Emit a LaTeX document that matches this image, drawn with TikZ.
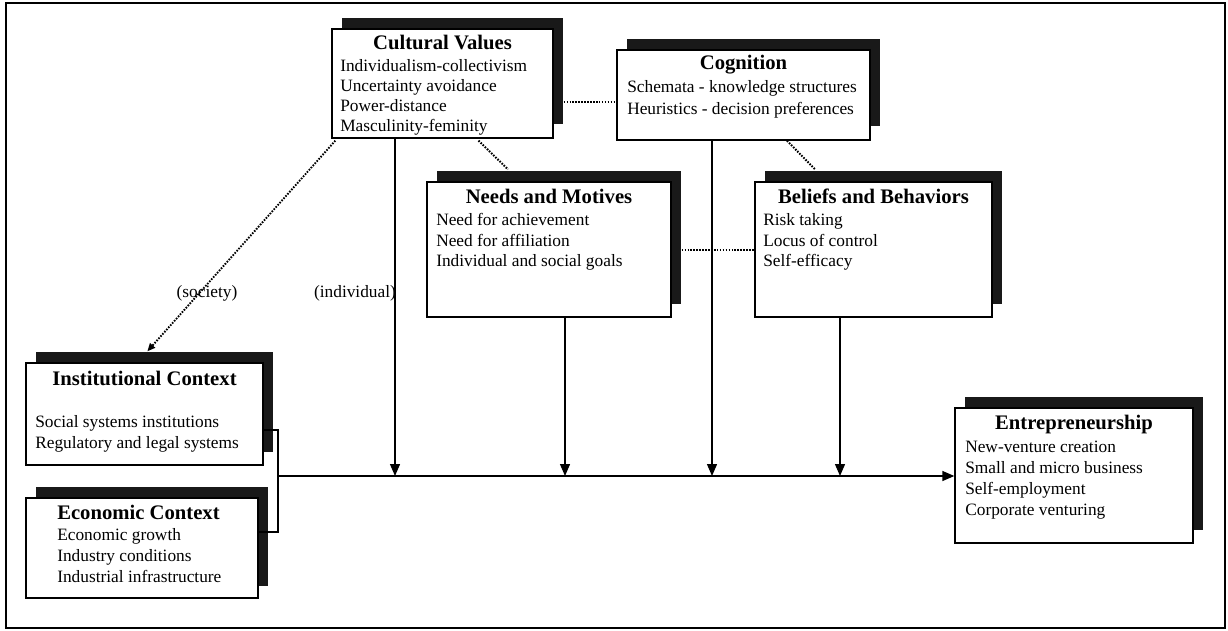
\documentclass[tikz,border=0pt]{standalone}
\usepackage{fontspec}
\setmainfont{Liberation Serif}
\usetikzlibrary{calc,arrows.meta,fit}
\begin{document}
\begin{tikzpicture}[x=0.75pt,y=-0.75pt,
 box/.style={draw=black,line width=1pt,fill=white,rectangle,inner sep=0pt},
 shade/.style={fill=black!90,draw=none},
 ttl/.style={font=\fontsize{15.5}{18}\selectfont\bfseries,inner sep=0pt,anchor=base},
 ttlw/.style={font=\fontsize{15.5}{18}\selectfont\bfseries,inner sep=0pt,anchor=base west},
 itm/.style={font=\fontsize{13}{15}\selectfont,inner sep=0pt,anchor=base west},
 lbl/.style={font=\fontsize{13}{15}\selectfont,inner sep=0pt,anchor=base},
 arr/.style={line width=1pt,-{Triangle[length=9pt,width=7.5pt]}},
 sarr/.style={line width=1.4pt,dash pattern=on 1.2pt off 1pt,-{Triangle[length=6pt,width=5pt]}},
 conn/.style={line width=1pt},
 dotl/.style={line width=1.5pt,dash pattern=on 1.2pt off 1pt}]
\useasboundingbox (0,0) rectangle (1228,631);
\draw[line width=1.6pt] (6,3) rectangle (1225,628);

% shadows
\fill[shade] (342,18) rectangle (563,124);
\fill[shade] (627,39) rectangle (880,126);
\fill[shade] (437,171) rectangle (681,304);
\fill[shade] (765,171) rectangle (1002,304);
\fill[shade] (36,352) rectangle (273,452);
\fill[shade] (36,487) rectangle (268,586);
\fill[shade] (965,397) rectangle (1203,530);

% boxes
\node[box,fit={(332,29) (553,138)}] (cv) {};
\node[box,fit={(617,50) (870,140)}] (cog) {};
\node[box,fit={(427,182) (671,317)}] (nm) {};
\node[box,fit={(755,182) (992,317)}] (bb) {};
\node[box,fit={(26,363) (263,465)}] (ic) {};
\node[box,fit={(26,498) (258,598)}] (ec) {};
\node[box,fit={(955,408) (1193,543)}] (ent) {};

% Cultural Values
\node[ttl] (cvt) at (442.5,50) {Cultural Values};
\node[itm] (cv1) at (340,72) {Individualism-collectivism};
\node[itm] (cv2) at (340,92) {Uncertainty avoidance};
\node[itm] (cv3) at (340,112) {Power-distance};
\node[itm] (cv4) at (340,132) {Masculinity-feminity};
% Cognition
\node[ttl] (cogt) at (743.5,70) {Cognition};
\node[itm] (cog1) at (627,93) {Schemata - knowledge structures};
\node[itm] (cog2) at (627,115) {Heuristics - decision preferences};
% Needs and Motives
\node[ttl] (nmt) at (549,204) {Needs and Motives};
\node[itm] (nm1) at (436,225) {Need for achievement};
\node[itm] (nm2) at (436,246) {Need for affiliation};
\node[itm] (nm3) at (436,267) {Individual and social goals};
% Beliefs and Behaviors
\node[ttl] (bbt) at (873.5,204) {Beliefs and Behaviors};
\node[itm] (bb1) at (763,225) {Risk taking};
\node[itm] (bb2) at (763,246) {Locus of control};
\node[itm] (bb3) at (763,267) {Self-efficacy};
% Institutional Context
\node[ttl] (ict) at (144.5,385) {Institutional Context};
\node[itm] (ic1) at (35,427) {Social systems institutions};
\node[itm] (ic2) at (35,448) {Regulatory and legal systems};
% Economic Context
\node[ttlw] (ect) at (57,519) {Economic Context};
\node[itm] (ec1) at (57,540) {Economic growth};
\node[itm] (ec2) at (57,561) {Industry conditions};
\node[itm] (ec3) at (57,582) {Industrial infrastructure};
% Entrepreneurship
\node[ttl] (entt) at (1074,429) {Entrepreneurship};
\node[itm] (ent1) at (965,452) {New-venture creation};
\node[itm] (ent2) at (965,473) {Small and micro business};
\node[itm] (ent3) at (965,494) {Self-employment};
\node[itm] (ent4) at (965,515) {Corporate venturing};

% labels
\node[lbl] (soc) at (207,297) {(society)};
\node[lbl] (ind) at (355,297) {(individual)};

% coordinates
\coordinate (mainL) at (278,476);
\coordinate (a1) at (395,0);
\coordinate (a2) at (565,0);
\coordinate (a3) at (712,0);
\coordinate (a4) at (840,0);

% bracket and main line
\coordinate (bA) at ($(ic.east)+(0,16)$);
\coordinate (bB) at ($(ec.east)+(0,-16)$);
\draw[conn] (bA) -- (bA -| mainL) -- (bB -| mainL) -- (bB);
\draw[arr] (mainL) -- (mainL -| ent.west);

% vertical arrows
\draw[arr] (cv.south -| a1) -- (mainL -| a1);
\draw[arr] (nm.south -| a2) -- (mainL -| a2);
\draw[arr] (cog.south -| a3) -- (mainL -| a3);
\draw[arr] (bb.south -| a4) -- (mainL -| a4);

% dotted links
\coordinate (d1) at ($(cv.east)+(10,18.5)$);
\draw[dotl] (d1) -- (d1 -| cog.west);
\draw[dotl] ($(nm.east)+(10,0)$) -- (bb.west);
\draw[dotl] ($(cv.south)+(36,2)$) -- ($(nm.north)+(-41,-12)$);
\draw[dotl] ($(cog.south)+(43.5,0)$) -- ($(bb.north)+(-58.5,-12)$);
\draw[sarr] ($(cv.south west)+(4,2)$) -- ($(ic.north west)+(122,-11)$);
\end{tikzpicture}
\end{document}
